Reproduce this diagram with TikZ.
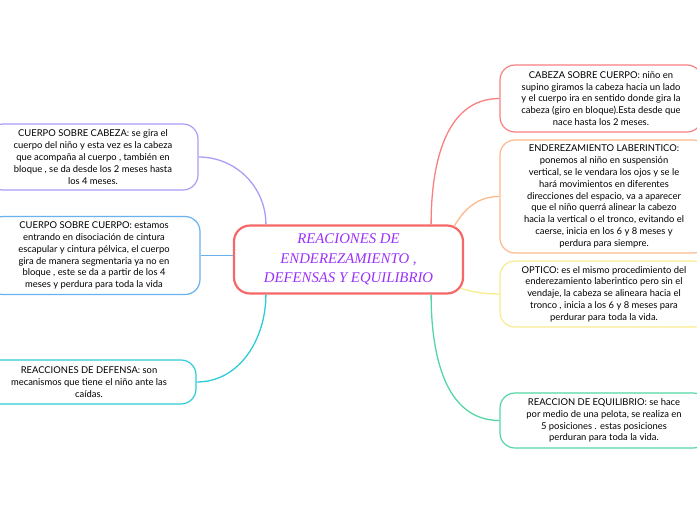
\documentclass[tikz,border=0pt]{standalone}
\usepackage{fontspec}
\setmainfont{Lato}
\newfontfamily\titulofont{Liberation Serif}
\usepackage{xcolor}
\usepackage{tikz}
\usetikzlibrary{positioning}
\definecolor{lila}{RGB}{168,158,246}
\definecolor{azul}{RGB}{104,178,240}
\definecolor{cian}{RGB}{44,204,216}
\definecolor{rojo}{RGB}{246,104,104}
\definecolor{salmon}{RGB}{248,128,128}
\definecolor{naranja}{RGB}{252,186,140}
\definecolor{amarillo}{RGB}{248,236,140}
\definecolor{verde}{RGB}{84,214,164}
\definecolor{morado}{RGB}{155,48,250}
\tikzset{
  caja/.style={draw=#1, line width=1.2pt, rounded corners=15pt, fill=white, align=center, inner sep=0pt, font=\fontsize{9.4}{11.8}\selectfont},
  centro/.style={draw=rojo, line width=2.2pt, rounded corners=16pt, fill=white, align=center, inner sep=0pt, text=morado, font=\titulofont\itshape\fontsize{14.8}{19.3}\selectfont},
  ramo/.style={draw=#1, line width=1.3pt},
}

\begin{document}
\begin{tikzpicture}[x=1pt, y=-1pt]
  \useasboundingbox (0,0) rectangle (697,520);
  \node[centro, minimum width=229pt, minimum height=68pt] (tema) at (348.5,259.5) {REACIONES DE\\ENDEREZAMIENTO ,\\DEFENSAS Y EQUILIBRIO};
  \node[caja=lila, minimum width=210pt, minimum height=66pt] (cc) at (93,157) {CUERPO SOBRE CABEZA: se gira el\\cuerpo del niño y esta vez es la cabeza\\que acompaña al cuerpo , también en\\bloque , se da desde los 2 meses hasta\\los 4 meses.};
  \node[caja=azul, minimum width=212pt, minimum height=78pt] (cu) at (94,255.5) {CUERPO SOBRE CUERPO: estamos\\entrando en disociación de cintura\\escapular y cintura pélvica, el cuerpo\\gira de manera segmentaria ya no en\\bloque , este se da a partir de los 4\\meses y perdura para toda la vida};
  \node[caja=cian, minimum width=214pt, minimum height=44pt] (rd) at (89,382) {REACCIONES DE DEFENSA: son\\mecanismos que tiene el niño ante las\\caídas.};
  \node[caja=salmon, minimum width=202pt, minimum height=67pt] (cb) at (601,98.5) {CABEZA SOBRE CUERPO: niño en\\supino giramos la cabeza hacia un lado\\y el cuerpo ira en sentido donde gira la\\cabeza (giro en bloque).Esta desde que\\nace hasta los 2 meses.};
  \node[caja=naranja, minimum width=208pt, minimum height=113pt] (el) at (604,196.5) {ENDEREZAMIENTO LABERINTICO:\\ponemos al niño en suspensión\\vertical, se le vendara los ojos y se le\\hará movimientos en diferentes\\direcciones del espacio, va a aparecer\\que el niño querrá alinear la cabezo\\hacia la vertical o el tronco, evitando el\\caerse, inicia en los 6 y 8 meses y\\perdura para siempre.};
  \node[caja=amarillo, minimum width=208pt, minimum height=66pt] (op) at (604,294) {OPTICO: es el mismo procedimiento del\\enderezamiento laberintico pero sin el\\vendaje, la cabeza se alineara hacia el\\tronco , inicia a los 6 y 8 meses para\\perdurar para toda la vida.};
  \node[caja=verde, minimum width=208pt, minimum height=55pt] (re) at (604,420.5) {REACCION DE EQUILIBRIO: se hace\\por medio de una pelota, se realiza en\\5 posiciones . estas posiciones\\perduran para toda la vida.};
  \draw[ramo=salmon] ([xshift=-33pt]tema.north east) to[out=90, in=180] (cb.west);
  \draw[ramo=naranja] ([xshift=-10pt,yshift=-2pt]tema.north east) to[out=60, in=180] (el.west);
  \draw[ramo=amarillo] ([xshift=-3pt,yshift=6pt]tema.south east) to[out=-15, in=180] (op.west);
  \draw[ramo=verde] ([xshift=-33pt]tema.south east) to[out=-90, in=180] (re.west);
  \draw[ramo=lila] (cc.east) to[out=0, in=90] ([xshift=33pt]tema.north west);
  \draw[ramo=azul] (cu.east) -- ([yshift=4pt]tema.west);
  \draw[ramo=cian] (rd.east) to[out=0, in=-90] ([xshift=33pt]tema.south west);
\end{tikzpicture}
\end{document}
